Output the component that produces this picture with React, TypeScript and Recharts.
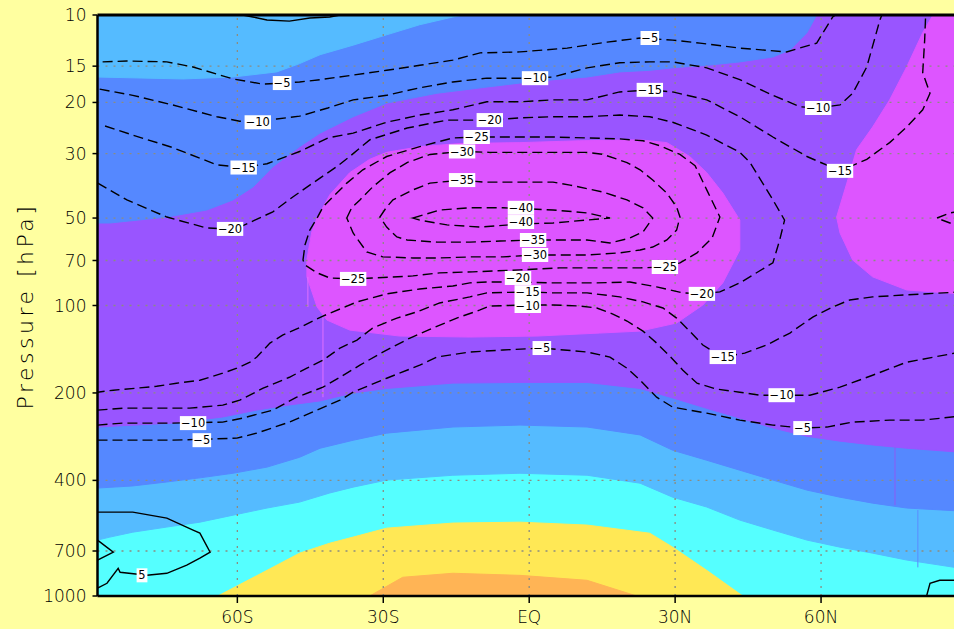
import React from "react";
import { ScatterChart, Scatter, XAxis, YAxis, ReferenceLine } from "recharts";

type Pt = [number, number]; // [latitude, pressure hPa]

const latTicks = [-60, -30, 0, 30, 60];
const latTickLabels = ["60S", "30S", "EQ", "30N", "60N"];
const pressureTicks = [10, 15, 20, 30, 50, 70, 100, 200, 400, 700, 1000];
const gridPressures = [15, 20, 30, 50, 70, 100, 200, 400, 700];

const LAT_MIN = -88.75;
const LAT_MAX = 88.75;

const C = {
  bg: "#FFFFA0",
  cyan: "#55FFFF",
  light: "#55BBFF",
  blue: "#5588FF",
  purple: "#9955FF",
  magenta: "#DD55FF",
  yellow: "#FFE855",
  orange: "#FFB455",
};

// shaded field: band edges, west to east
const cyanTopEdge: Pt[] = [
  [-88.75, 642], [-86.2, 627], [-81.5, 603], [-74.5, 579], [-67.7, 557], [-60.9, 527],
  [-53.9, 498], [-47.2, 475], [-41.0, 442], [-36.2, 422], [-29.3, 399], [-15.7, 384],
  [-1.9, 378], [11.9, 384], [22.8, 409], [29.5, 457], [36.5, 494], [43.3, 548],
  [50.1, 593], [57.1, 642], [63.9, 679], [70.6, 712], [77.6, 752], [88.75, 803],
];
const lightTopEdge: Pt[] = [
  [-88.75, 425], [-81.5, 418], [-74.5, 405], [-67.7, 392], [-60.9, 378], [-53.9, 360],
  [-47.2, 333], [-43.0, 310], [-36.2, 291], [-29.3, 275], [-15.7, 262], [-1.9, 258],
  [11.9, 262], [22.8, 279], [29.5, 315], [36.5, 341], [43.3, 369], [50.1, 399],
  [57.1, 432], [63.9, 457], [70.6, 479], [77.6, 498], [88.75, 510],
];
const purpleBottomEdge: Pt[] = [
  [-88.75, 262], [-73.3, 254], [-63.0, 242], [-56.0, 229], [-49.3, 220], [-43.0, 213],
  [-36.2, 200], [-29.3, 193], [-15.7, 185], [-1.9, 184], [11.9, 184], [22.8, 193],
  [29.5, 208], [36.5, 226], [43.3, 244], [50.1, 264], [57.1, 282], [63.9, 293],
  [70.6, 302], [77.6, 310], [88.75, 320],
];
const upperBlueEdge: Pt[] = [
  [-88.75, 52.0], [-86.2, 52.0], [-74.5, 49.6], [-66.3, 46.9], [-60.9, 43.3], [-56.8, 39.1],
  [-52.7, 33.3], [-47.2, 28.4], [-43.0, 25.5], [-36.2, 22.4], [-29.3, 20.1], [-19.0, 18.6],
  [-8.7, 17.7], [-1.9, 17.15], [4.9, 16.7], [11.9, 16.35], [18.6, 15.7], [24.8, 15.5],
  [29.5, 15.2], [36.5, 14.9], [43.3, 14.5], [50.1, 13.95], [53.6, 13.2], [57.1, 11.5],
  [59.1, 10],
];
const upperLightEdge: Pt[] = [
  [-88.75, 16.35], [-71.2, 16.6], [-60.9, 16.35], [-51.9, 15.7], [-47.2, 14.7], [-43.0, 13.7],
  [-36.2, 12.7], [-29.3, 11.7], [-22.5, 10.8], [-15.7, 10.16], [-13.6, 10],
];
const magentaCore: Pt[] = [
  [-41.0, 41.6], [-36.9, 34.9], [-32.8, 31.4], [-29.3, 29.7], [-22.5, 28.4], [-14.2, 27.7],
  [-1.9, 27.5], [10.4, 27.1], [22.8, 26.9], [28.3, 27.5], [33.0, 30.7], [36.5, 34.9],
  [39.8, 41.0], [43.3, 50.8], [43.3, 64.4], [39.8, 83.6], [35.7, 99.6], [30.3, 114.9],
  [22.8, 122.5], [14.5, 124.4], [1.6, 127.4], [-12.2, 128.4], [-26.6, 127.4], [-36.9, 121.5],
  [-41.6, 112.2], [-43.6, 101.2], [-45.7, 79.7], [-45.7, 69.7], [-44.7, 55.8], [-43.6, 50.0],
];
const magentaEast: Pt[] = [
  [83.0, 10], [80.9, 11.5], [77.6, 15.1], [74.1, 19.6], [70.6, 24.3], [67.3, 29.1],
  [65.3, 37.9], [63.2, 49.6], [63.9, 56.3], [66.5, 69.7], [70.6, 79.7], [77.6, 88.4],
  [88.75, 91.2],
];
const yellowDome: Pt[] = [
  [-64.0, 1000], [-53.9, 816], [-47.2, 712], [-41.0, 658], [-36.2, 627], [-29.3, 584],
  [-15.7, 561], [-1.9, 557], [11.9, 570], [24.8, 608], [29.5, 679], [36.5, 816], [43.9, 1000],
];
const orangeDome: Pt[] = [
  [-32.8, 1000], [-26.0, 862], [-15.7, 835], [-1.9, 849], [11.9, 883], [22.1, 1000],
];

// contour lines
const minus5Upper: Pt[] = [
  [-87.7, 14.5], [-82.7, 14.4], [-74.5, 14.5], [-69.1, 15.1], [-60.9, 16.6], [-54.7, 17.3],
  [-47.2, 17.0], [-43.0, 16.7], [-36.2, 16.1], [-29.3, 15.5], [-22.5, 14.9], [-15.7, 14.3],
  [-10.1, 13.5], [-1.9, 13.4], [7.8, 13.0], [16.0, 12.4], [22.8, 12.0], [29.5, 12.2],
  [35.1, 12.5], [43.3, 13.0], [52.9, 13.4], [59.1, 12.5], [62.4, 10.16], [63.0, 10],
];
const minus10Upper: Pt[] = [
  [-88.3, 18.0], [-81.5, 18.9], [-73.3, 20.4], [-64.2, 22.4], [-59.5, 23.2], [-51.9, 22.8],
  [-47.2, 22.3], [-41.4, 20.9], [-36.2, 19.6], [-29.3, 18.9], [-22.5, 17.8], [-15.7, 17.0],
  [-8.7, 16.5], [-1.9, 16.5], [4.9, 16.35], [11.9, 15.2], [18.6, 14.6], [24.8, 14.5],
  [29.5, 14.5], [36.5, 15.2], [43.3, 16.7], [50.1, 18.9], [55.7, 20.7], [59.4, 20.9],
  [63.9, 20.4], [66.5, 18.6], [69.4, 15.1], [72.1, 10.4], [72.5, 10],
];
const minus15Upper: Pt[] = [
  [-87.2, 24.1], [-81.5, 25.9], [-73.3, 28.6], [-64.2, 32.8], [-58.7, 33.5], [-53.9, 32.5],
  [-47.2, 29.5], [-41.4, 26.5], [-36.2, 25.5], [-29.3, 23.4], [-22.5, 22.1], [-15.7, 21.2],
  [-8.7, 19.9], [-1.9, 19.9], [4.9, 19.6], [11.9, 19.6], [18.6, 18.4], [24.8, 18.1],
  [29.5, 18.4], [36.5, 19.6], [43.3, 22.4], [50.1, 26.3], [57.1, 30.7], [63.9, 34.4],
  [69.4, 31.4], [74.1, 27.5], [77.6, 24.3], [80.9, 21.2], [82.4, 18.6], [80.9, 15.8],
  [81.3, 12.2], [81.5, 10],
];
const minus20Line: Pt[] = [
  [-88.7, 37.9], [-82.7, 43.3], [-74.5, 49.6], [-66.3, 54.1], [-61.5, 54.5], [-59.5, 53.7],
  [-52.7, 47.6], [-48.6, 42.3], [-43.6, 37.0], [-39.6, 33.3], [-36.9, 30.7], [-32.8, 26.9],
  [-25.1, 24.5], [-16.9, 23.0], [-8.1, 23.0], [-1.9, 22.6], [4.9, 22.4], [11.9, 22.4],
  [18.6, 22.1], [24.8, 22.4], [29.5, 23.4], [36.5, 25.9], [43.3, 29.7], [45.4, 32.2],
  [50.1, 43.3], [52.5, 50.8], [51.5, 59.5], [50.1, 71.3], [43.3, 83.6], [39.2, 89.8],
  [35.5, 91.2], [31.6, 90.5], [26.2, 86.3], [20.7, 83.0], [13.9, 83.6], [8.4, 83.6],
  [4.3, 83.6], [-1.9, 83.0], [-8.7, 83.0], [-12.2, 83.6], [-15.7, 85.7], [-22.5, 87.7],
  [-29.3, 91.2], [-35.4, 97.2], [-38.9, 102.8], [-42.4, 108.7], [-46.5, 117.7], [-50.7, 126.4],
  [-53.3, 134.7], [-56.0, 150.5], [-57.4, 156.7], [-60.1, 164.4], [-63.0, 171.0], [-67.7, 180.8],
  [-72.5, 185.2], [-76.6, 189.6], [-80.7, 192.6], [-85.5, 195.7], [-88.75, 198.8],
];
const minus15Lower: Pt[] = [
  [-88.75, 229.2], [-83.5, 225.6], [-76.6, 225.6], [-69.8, 225.6], [-63.0, 220.3], [-59.5, 211.8],
  [-54.7, 192.6], [-49.3, 176.6], [-45.7, 164.4], [-42.4, 154.3], [-38.9, 140.1], [-35.4, 131.5],
  [-32.2, 119.6], [-27.2, 110.5], [-23.1, 105.2], [-18.4, 98.0], [-12.2, 93.4], [-8.7, 90.5],
  [-0.3, 89.8], [4.9, 90.5], [11.9, 90.5], [18.6, 93.4], [23.4, 97.2], [27.5, 102.0],
  [30.3, 110.5], [33.0, 122.5], [35.7, 136.8], [39.8, 150.5], [44.3, 145.8], [48.8, 136.8],
  [53.6, 124.4], [58.3, 109.6], [62.4, 101.2], [65.9, 95.7], [70.6, 93.4], [77.6, 91.9],
  [88.75, 89.8],
];
const minus10Lower: Pt[] = [
  [-88.75, 258.0], [-83.5, 254.0], [-73.3, 254.0], [-63.0, 252.0], [-58.9, 244.1], [-52.7, 229.2],
  [-47.8, 206.8], [-42.4, 191.1], [-38.9, 176.6], [-34.8, 160.5], [-30.1, 144.6], [-24.5, 129.4],
  [-19.8, 119.6], [-14.9, 110.5], [-10.1, 103.6], [-8.1, 100.4], [-0.3, 99.6], [4.9, 99.6],
  [10.4, 100.4], [13.9, 102.0], [17.2, 107.0], [20.1, 113.1], [23.4, 122.5], [26.2, 134.7],
  [28.9, 149.3], [31.6, 167.0], [34.5, 185.2], [38.6, 194.1], [43.3, 198.8], [47.4, 203.6],
  [51.9, 203.6], [57.7, 203.6], [63.9, 191.1], [70.6, 173.8], [77.6, 156.7], [88.75, 144.6],
];
const minus5Lower: Pt[] = [
  [-88.75, 290.8], [-83.5, 290.8], [-73.3, 290.8], [-60.1, 286.2], [-56.0, 275.0], [-49.3, 252.0],
  [-43.6, 229.2], [-38.9, 211.8], [-36.2, 198.8], [-29.3, 178.0], [-22.5, 160.5], [-19.0, 150.5],
  [-12.2, 144.6], [-5.4, 142.3], [2.6, 140.1], [4.9, 141.2], [11.9, 144.6], [16.6, 150.5],
  [20.1, 164.4], [22.8, 180.8], [26.2, 206.8], [29.5, 223.8], [36.5, 234.7], [43.3, 248.0],
  [50.1, 258.0], [56.2, 264.2], [61.2, 262.1], [66.5, 252.0], [74.1, 248.0], [80.9, 248.0],
  [88.75, 240.3],
];
const minus20East: Pt[] = [
  [88.75, 47.3], [86.5, 48.0], [83.8, 50.0], [86.5, 52.0], [88.75, 53.7],
];
const minus25Loop: Pt[] = [
  [-46.5, 69.7], [-46.1, 61.9], [-45.1, 55.0], [-43.6, 50.0], [-42.4, 45.8], [-40.4, 42.3],
  [-37.5, 37.9], [-34.2, 34.1], [-29.3, 30.7], [-22.5, 28.4], [-15.7, 26.5], [-10.8, 26.3],
  [-6.6, 26.3], [4.9, 26.3], [11.9, 26.5], [18.6, 26.7], [23.4, 27.1], [26.9, 28.2],
  [31.0, 30.2], [34.1, 33.0], [36.5, 40.0], [39.2, 49.6], [37.6, 58.6], [34.5, 65.9],
  [31.0, 71.3], [27.9, 73.7], [22.8, 74.2], [14.5, 74.2], [6.3, 74.2], [-1.9, 75.4],
  [-11.6, 76.6], [-18.4, 77.2], [-23.9, 79.1], [-32.2, 80.4], [-36.2, 81.0], [-41.0, 80.4],
  [-43.6, 77.2], [-46.1, 72.5],
];
const minus30Loop: Pt[] = [
  [-37.5, 50.0], [-36.5, 46.1], [-34.8, 43.3], [-32.2, 39.1], [-28.6, 34.9], [-25.1, 32.2],
  [-20.4, 30.2], [-13.8, 29.5], [-8.1, 29.7], [-1.9, 29.7], [4.9, 29.7], [11.9, 29.7],
  [15.2, 30.2], [20.1, 32.2], [22.8, 34.1], [25.4, 37.0], [28.3, 41.0], [30.3, 45.8],
  [31.0, 49.6], [30.3, 55.0], [28.3, 59.5], [25.4, 62.9], [22.8, 64.4], [18.6, 65.9],
  [11.9, 67.0], [1.2, 67.0], [-5.4, 68.0], [-11.6, 68.0], [-18.4, 68.6], [-23.9, 68.6],
  [-30.1, 68.0], [-33.4, 65.4], [-36.2, 56.3],
];
const minus35Loop: Pt[] = [
  [-30.7, 49.6], [-29.3, 45.8], [-28.0, 43.3], [-23.9, 40.0], [-20.4, 37.9], [-13.8, 37.0],
  [-9.5, 37.6], [-1.9, 37.6], [4.9, 37.6], [8.4, 38.5], [15.2, 40.7], [20.1, 43.3],
  [23.4, 46.1], [25.4, 50.0], [23.4, 55.8], [20.7, 58.6], [16.6, 60.9], [11.9, 59.5],
  [6.3, 59.5], [0.8, 59.5], [-6.0, 60.0], [-12.2, 60.5], [-19.0, 60.5], [-25.1, 59.5],
  [-27.2, 58.1], [-29.3, 53.7],
];
const minus40Loop: Pt[] = [
  [-23.9, 50.0], [-18.4, 46.9], [-12.2, 46.1], [-5.4, 46.1], [4.9, 46.9], [11.9, 48.0],
  [16.6, 50.0], [11.9, 50.8], [4.9, 52.0], [-1.7, 52.4], [-10.1, 53.7], [-16.9, 52.8],
  [-22.5, 50.8],
];
const zeroTop: Pt[] = [
  [-58.9, 10], [-56.8, 10.16], [-53.9, 10.4], [-49.3, 10.5], [-45.1, 10.24], [-41.0, 10.16], [-38.9, 10],
];
const plus5West: Pt[] = [
  [-88.75, 514.4], [-81.5, 514.4], [-74.5, 539.3], [-69.1, 593.3], [-67.7, 607.6], [-65.6, 706.3],
  [-67.7, 740.8], [-70.4, 783.0], [-74.5, 835.4], [-78.6, 848.8], [-84.1, 828.8], [-84.5, 803.0],
  [-86.8, 904.0], [-88.75, 940.0],
];
const plus5WestEdge: Pt[] = [[-88.75, 642], [-85.5, 706], [-88.75, 752]];
const plus5East: Pt[] = [[81.7, 1000], [82.4, 904], [84.4, 883], [88.75, 883]];

const contourLabels = [
  { lat: -50.8, p: 17.15, v: -5 }, { lat: 24.8, p: 12.0, v: -5 },
  { lat: -55.8, p: 23.4, v: -10 }, { lat: 1.2, p: 16.5, v: -10 }, { lat: 59.4, p: 20.9, v: -10 },
  { lat: -58.7, p: 33.5, v: -15 }, { lat: 24.8, p: 18.1, v: -15 }, { lat: 63.9, p: 34.4, v: -15 },
  { lat: -61.5, p: 54.5, v: -20 }, { lat: -8.1, p: 23.0, v: -20 },
  { lat: -10.8, p: 26.3, v: -25 }, { lat: -13.8, p: 29.5, v: -30 }, { lat: -13.8, p: 37.0, v: -35 },
  { lat: -1.7, p: 46.1, v: -40 }, { lat: -1.7, p: 51.6, v: -40 },
  { lat: 0.8, p: 59.5, v: -35 }, { lat: 1.2, p: 67.0, v: -30 },
  { lat: 27.9, p: 73.7, v: -25 }, { lat: -36.2, p: 81.0, v: -25 },
  { lat: -2.3, p: 80.4, v: -20 }, { lat: -0.3, p: 90.0, v: -15 }, { lat: -0.3, p: 100.4, v: -10 },
  { lat: 35.5, p: 91.2, v: -20 }, { lat: 39.8, p: 150.5, v: -15 },
  { lat: 2.6, p: 140.1, v: -5 }, { lat: 51.9, p: 203.6, v: -10 }, { lat: 56.2, p: 264.2, v: -5 },
  { lat: -69.1, p: 254.0, v: -10 }, { lat: -67.3, p: 290.8, v: -5 },
  { lat: -79.6, p: 848.8, v: 5 },
];

const toPts = (a: Pt[]) => a.map(([lat, p]) => ({ lat, p }));

const fills: { color: string; pts: Pt[] }[] = [
  { color: C.cyan, pts: [[LAT_MIN, 10], [LAT_MAX, 10], [LAT_MAX, 1000], [LAT_MIN, 1000]] },
  { color: C.light, pts: [[LAT_MIN, 10], ...cyanTopEdge, [LAT_MAX, 10]] },
  { color: C.blue, pts: [[LAT_MIN, 10], ...lightTopEdge, [LAT_MAX, 10]] },
  { color: C.purple, pts: [[LAT_MIN, 10], ...purpleBottomEdge, [LAT_MAX, 10]] },
  { color: C.blue, pts: [[LAT_MIN, 10], ...upperBlueEdge] },
  { color: C.light, pts: [[LAT_MIN, 10], ...upperLightEdge] },
  { color: C.magenta, pts: magentaCore },
  { color: C.magenta, pts: [...magentaEast, [LAT_MAX, 10]] },
  { color: C.yellow, pts: yellowDome },
  { color: C.orange, pts: orangeDome },
];

const dashedOpen = [minus5Upper, minus10Upper, minus15Upper, minus20Line, minus15Lower, minus10Lower, minus5Lower, minus20East];
const dashedLoops = [minus25Loop, minus30Loop, minus35Loop, minus40Loop];
const solidOpen = [zeroTop, plus5West, plus5WestEdge, plus5East];

const FONT = "DejaVu Sans";
const hidden = () => <g />;
const dash = { stroke: "#000", strokeWidth: 1.4, strokeDasharray: "10 5", fill: "none" };
const solid = { stroke: "#000", strokeWidth: 1.4, fill: "none" };

const LabelBox = (props: any) => {
  const { cx, cy, payload } = props;
  const text = payload.v < 0 ? `\u2212${-payload.v}` : `${payload.v}`;
  const w = text.length * 7.8 + 3;
  return (
    <g>
      <rect x={cx - w / 2} y={cy - 7} width={w} height={14} fill="#fff" />
      <text x={cx} y={cy} dy="0.36em" textAnchor="middle" fontSize={11.5} fontFamily={FONT} fill="#000">
        {text}
      </text>
    </g>
  );
};

export default function App() {
  return (
    <div style={{ position: "fixed", left: 0, top: 0, width: 954, height: 629, overflow: "hidden", background: C.bg }}>
      <ScatterChart width={1000} height={629} margin={{ top: 15, right: 39.1, bottom: 0, left: 37.5 }}>
        {fills.map((f, i) => (
          <Scatter
            key={`fill-${i}`}
            data={toPts(f.pts)}
            shape={hidden}
            line={{ fill: f.color, stroke: f.color, strokeWidth: 1 }}
            lineJointType="linearClosed"
            isAnimationActive={false}
            zIndex={100}
          />
        ))}
        <ReferenceLine segment={[{ x: -45.5, y: 79.7 }, { x: -45.5, y: 101.2 }]} stroke="#E070FF" strokeWidth={1} zIndex={120} />
        <ReferenceLine segment={[{ x: -42.4, y: 107.9 }, { x: -42.4, y: 206.8 }]} stroke="#E070FF" strokeWidth={1} zIndex={120} />
        <ReferenceLine segment={[{ x: 75.2, y: 307.4 }, { x: 75.2, y: 486.6 }]} stroke="#8A5CF5" strokeWidth={1} zIndex={120} />
        <ReferenceLine segment={[{ x: 79.9, y: 506 }, { x: 79.9, y: 797 }]} stroke="#5A8CFF" strokeWidth={1} zIndex={120} />
        {latTicks.map((x) => (
          <ReferenceLine key={`gx-${x}`} x={x} stroke="#8c8c80" strokeWidth={1.3} strokeDasharray="2 6" zIndex={150} />
        ))}
        {gridPressures.map((y) => (
          <ReferenceLine key={`gy-${y}`} y={y} stroke="#8c8c80" strokeWidth={1.3} strokeDasharray="2 6" zIndex={150} />
        ))}
        {dashedOpen.map((d, i) => (
          <Scatter key={`do-${i}`} data={toPts(d)} shape={hidden} line={dash} lineJointType="linear" isAnimationActive={false} zIndex={600} />
        ))}
        {dashedLoops.map((d, i) => (
          <Scatter key={`dl-${i}`} data={toPts(d)} shape={hidden} line={dash} lineJointType="linearClosed" isAnimationActive={false} zIndex={600} />
        ))}
        {solidOpen.map((d, i) => (
          <Scatter key={`so-${i}`} data={toPts(d)} shape={hidden} line={solid} lineJointType="linear" isAnimationActive={false} zIndex={600} />
        ))}
        <Scatter data={contourLabels} shape={LabelBox} isAnimationActive={false} zIndex={700} />
        <ReferenceLine y={10} stroke="#000" strokeWidth={3} zIndex={800} />
        <XAxis
          type="number"
          dataKey="lat"
          domain={[LAT_MIN, LAT_MAX]}
          allowDataOverflow
          ticks={latTicks}
          interval={0}
          tickFormatter={(v: number) => latTickLabels[latTicks.indexOf(v)]}
          height={33}
          tickSize={7}
          tickMargin={8}
          axisLine={{ stroke: "#000", strokeWidth: 2.5 }}
          tickLine={{ stroke: "#000", strokeWidth: 1.5 }}
          tick={{ fill: "#000", fontSize: 17, fontFamily: FONT, fontWeight: 300 }}
        />
        <YAxis
          type="number"
          dataKey="p"
          scale="log"
          domain={[10, 1000]}
          allowDataOverflow
          reversed
          ticks={pressureTicks}
          interval={0}
          width={60}
          tickSize={5}
          tickMargin={6}
          axisLine={{ stroke: "#000", strokeWidth: 2.5 }}
          tickLine={{ stroke: "#000", strokeWidth: 1.5 }}
          tick={{ fill: "#000", fontSize: 17, fontFamily: FONT, fontWeight: 300 }}
        />
      </ScatterChart>
      <div
        style={{
          position: "absolute",
          left: 25,
          top: 305.5,
          transform: "translate(-50%, -50%) rotate(-90deg)",
          whiteSpace: "nowrap",
          fontFamily: FONT,
          fontWeight: 300,
          fontSize: 22,
          letterSpacing: 3.5,
          color: "#000",
        }}
      >
        Pressure [hPa]
      </div>
    </div>
  );
}
